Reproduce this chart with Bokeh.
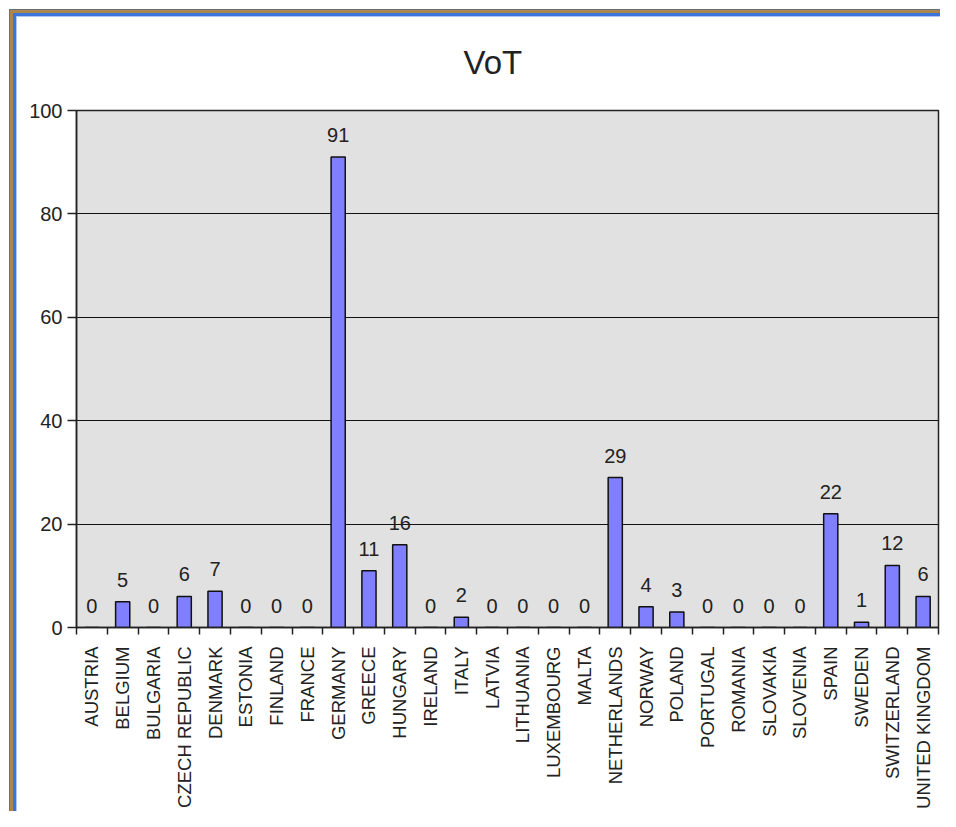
import math
from bokeh.plotting import figure
from bokeh.models import ColumnDataSource, LabelSet, FixedTicker, Range1d
from bokeh.core.properties import value
from bokeh.embed import file_html
from bokeh.resources import INLINE

countries = ["AUSTRIA", "BELGIUM", "BULGARIA", "CZECH REPUBLIC", "DENMARK", "ESTONIA",
             "FINLAND", "FRANCE", "GERMANY", "GREECE", "HUNGARY", "IRELAND", "ITALY",
             "LATVIA", "LITHUANIA", "LUXEMBOURG", "MALTA", "NETHERLANDS", "NORWAY",
             "POLAND", "PORTUGAL", "ROMANIA", "SLOVAKIA", "SLOVENIA", "SPAIN", "SWEDEN",
             "SWITZERLAND", "UNITED KINGDOM"]
values = [0, 5, 0, 6, 7, 0, 0, 0, 91, 11, 16, 0, 2, 0, 0, 0, 0, 29, 4, 3, 0, 0, 0, 0,
          22, 1, 12, 6]
y_ticks = [0, 20, 40, 60, 80, 100]

FONT = "Liberation Sans"
TXT = "#222222"
n = len(countries)
pos = [i + 0.5 for i in range(n)]
bounds = list(range(n + 1))
src = ColumnDataSource(dict(x=pos, top=values, lab=[str(v) for v in values]))

p = figure(width=940, height=811, output_backend="svg", toolbar_location=None,
           x_range=Range1d(0, n), y_range=Range1d(0, 100),
           min_border_left=76, min_border_top=110, min_border_right=2,
           min_border_bottom=176,
           title="VoT",
           styles={"box-shadow": "inset 9px 9px 0 0 #ffffff, inset 10px 10px 0 0 #6E6E6E, "
                                 "inset 13px 13px 0 0 #A8884E, inset 16px 16px 0 0 #3B73D9, "
                                 "inset 17px 17px 0 0 #AFC8F0"})

p.background_fill_color = "#E1E1E1"
p.border_fill_color = None
p.outline_line_color = "#222222"
p.outline_line_width = 1.5

p.title.align = "left"
p.title.offset = 387
p.title.standoff = 59
p.title.text_font = FONT
p.title.text_font_size = "33px"
p.title.text_font_style = "normal"
p.title.text_color = TXT

p.vbar(x="x", top="top", width=0.46, source=src, fill_color="#7F7FFF",
       line_color="#111111", line_width=1.5)

# y axis
p.yaxis.ticker = FixedTicker(ticks=y_ticks)
p.yaxis.major_label_text_font = FONT
p.yaxis.major_label_text_font_size = "20px"
p.yaxis.major_label_text_color = TXT
p.yaxis.major_tick_out = 9
p.yaxis.major_tick_in = 0
p.yaxis.minor_tick_line_color = None
p.yaxis.major_label_standoff = 5
p.yaxis.axis_line_color = "#222222"
p.yaxis.axis_line_width = 1.5
p.yaxis.major_tick_line_color = "#222222"
p.yaxis.major_tick_line_width = 1.5

# x axis: country names at category centres, tick marks at category boundaries
p.xaxis.ticker = FixedTicker(ticks=pos, minor_ticks=bounds)
p.xaxis.major_label_overrides = {c: name for c, name in zip(pos, countries)}
p.xaxis.major_label_orientation = math.pi / 2
p.xaxis.major_label_text_font = FONT
p.xaxis.major_label_text_font_size = "18.5px"
p.xaxis.major_label_text_color = TXT
p.xaxis.major_label_standoff = 12
p.xaxis.major_tick_out = 0
p.xaxis.major_tick_in = 0
p.xaxis.major_tick_line_color = None
p.xaxis.minor_tick_out = 7
p.xaxis.minor_tick_in = 0
p.xaxis.minor_tick_line_color = "#222222"
p.xaxis.minor_tick_line_width = 1.5
p.xaxis.axis_line_color = "#222222"
p.xaxis.axis_line_width = 1.5

p.xgrid.grid_line_color = None
p.ygrid.ticker = FixedTicker(ticks=y_ticks)
p.ygrid.grid_line_color = "#111111"
p.ygrid.grid_line_width = 1.2

# value labels
vals = LabelSet(x="x", y="top", text="lab", source=src, y_offset=15,
                text_align="center", text_baseline="alphabetic",
                text_font=value(FONT), text_font_size=value("20px"),
                text_color=TXT)
p.add_layout(vals)

open("out.html", "w").write(file_html(p, INLINE))
